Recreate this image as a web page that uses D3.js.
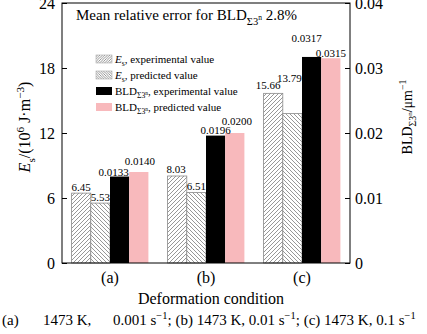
<!DOCTYPE html>
<html>
<head>
<meta charset="utf-8">
<script src="https://cdn.jsdelivr.net/npm/d3@7"></script>
<style>
  body { margin: 0; background: #fff; }
  text { font-family: "Liberation Serif", "DejaVu Serif", serif; fill: #000; }
</style>
</head>
<body>
<div id="chart"></div>
<script>
// data
const conditions = ["(a)", "(b)", "(c)"];
const esExp = [6.45, 8.03, 15.66];
const esPred = [5.53, 6.51, 13.79];
const bldExp = [0.0133, 0.0196, 0.0317];
const bldPred = [0.0140, 0.0200, 0.0315];
const leftTicks = [0, 6, 12, 18, 24];
const rightTicks = [0, 0.01, 0.02, 0.03, 0.04];
const seriesKeys = ["esExp", "esPred", "bldExp", "bldPred"];

const W = 427, H = 334;
const box = {left: 62, right: 350, top: 3, bottom: 263};

let svg = d3.select("#chart").append("svg")
    .attr("width", W)
    .attr("height", H);

// hatch patterns
let defs = svg.append("defs");
function hatch(id, size, flip) {
    let p = defs.append("pattern")
        .attr("id", id)
        .attr("patternUnits", "userSpaceOnUse")
        .attr("width", size)
        .attr("height", size);
    p.append("rect").attr("width", size).attr("height", size).attr("fill", "#fff");
    let s = size;
    let d = flip
        ? `M-1,-1 L${s + 1},${s + 1} M${-s / 2 - 1},${s / 2 - 1} L${s / 2 + 1},${1.5 * s + 1} M${s / 2 - 1},${-s / 2 - 1} L${1.5 * s + 1},${s / 2 + 1}`
        : `M-1,${s + 1} L${s + 1},-1 M${-s / 2 - 1},${s / 2 + 1} L${s / 2 + 1},${-s / 2 - 1} M${s / 2 - 1},${1.5 * s + 1} L${1.5 * s + 1},${s / 2 - 1}`;
    p.append("path").attr("d", d).attr("stroke", "#6a6a6a").attr("stroke-width", 0.7);
}
hatch("hatchA", 4, false);
hatch("hatchB", 4, true);
hatch("hatchAs", 2.5, false);
hatch("hatchBs", 2.5, true);

const fills = {esExp: "url(#hatchA)", esPred: "url(#hatchB)", bldExp: "#000", bldPred: "#f8b9bc"};
const legFills = {esExp: "url(#hatchAs)", esPred: "url(#hatchBs)", bldExp: "#000", bldPred: "#f8b9bc"};
const strokes = {esExp: "#8a8a8a", esPred: "#8a8a8a", bldExp: "none", bldPred: "none"};

let x0 = d3.scaleBand()
    .domain(conditions)
    .range([box.left, box.right])
    .padding(0);

let x1 = d3.scaleBand()
    .domain(seriesKeys)
    .range([0, x0.bandwidth()])
    .paddingInner(0)
    .paddingOuter(0.5);

let yL = d3.scaleLinear().domain([0, 24]).range([box.bottom, box.top]);
let yR = d3.scaleLinear().domain([0, 0.04]).range([box.bottom, box.top]);

// rich text helper: parts = [[text, kind]]
function rich(sel, parts, size) {
    let cur = 0;
    parts.forEach(([txt, kind]) => {
        let off = 0, fs = size, fst = "normal";
        if (kind === "i") fst = "italic";
        if (kind === "sub") { off = 0.3 * size; fs = 0.7 * size; }
        if (kind === "subsup") { off = 0.02 * size; fs = 0.5 * size; }
        if (kind === "sup") { off = -0.4 * size; fs = 0.7 * size; }
        sel.append("tspan")
            .attr("dy", off - cur)
            .attr("font-size", fs)
            .attr("font-style", fst)
            .text(txt);
        cur = off;
    });
    return sel;
}

// bar records
let bars = [];
conditions.forEach((c, i) => {
    bars.push({cond: c, key: "esExp", v: esExp[i], y: yL(esExp[i]), label: esExp[i].toFixed(2)});
    bars.push({cond: c, key: "esPred", v: esPred[i], y: yL(esPred[i]), label: esPred[i].toFixed(2)});
    bars.push({cond: c, key: "bldExp", v: bldExp[i], y: yR(bldExp[i]), label: bldExp[i].toFixed(4)});
    bars.push({cond: c, key: "bldPred", v: bldPred[i], y: yR(bldPred[i]), label: bldPred[i].toFixed(4)});
});

svg.append("g").selectAll("rect")
    .data(bars)
    .enter()
    .append("rect")
    .attr("x", d => x0(d.cond) + x1(d.key))
    .attr("y", d => d.y)
    .attr("width", x1.bandwidth())
    .attr("height", d => box.bottom - d.y)
    .attr("fill", d => fills[d.key])
    .attr("stroke", d => strokes[d.key])
    .attr("stroke-width", 0.8);

// label nudges [dx, dy] where the original moved a label off its bar
const nudge = {
    "(a)bldExp": [-6, -1], "(a)bldPred": [1, -7],
    "(b)esExp": [-1, -3], "(b)bldPred": [2, -8],
    "(c)esExp": [-5, -4], "(c)esPred": [-3, -32], "(c)bldExp": [-5, -15], "(c)bldPred": [0, -1]
};

svg.append("g").selectAll("text")
    .data(bars)
    .enter()
    .append("text")
    .attr("x", d => x0(d.cond) + x1(d.key) + x1.bandwidth() / 2 + (nudge[d.cond + d.key] || [0, -2])[0])
    .attr("y", d => d.y + (nudge[d.cond + d.key] || [0, -2])[1])
    .attr("text-anchor", "middle")
    .attr("font-size", 11)
    .text(d => d.label);

// frame
svg.append("rect")
    .attr("x", box.left)
    .attr("y", box.top)
    .attr("width", box.right - box.left)
    .attr("height", box.bottom - box.top)
    .attr("fill", "none")
    .attr("stroke", "#000")
    .attr("stroke-width", 1);

// axes with inward ticks
let axL = svg.append("g")
    .attr("transform", `translate(${box.left},0)`)
    .call(d3.axisLeft(yL).tickValues(leftTicks).tickSize(-5).tickPadding(7).tickFormat(d3.format("d")));
let axR = svg.append("g")
    .attr("transform", `translate(${box.right},0)`)
    .call(d3.axisRight(yR).tickValues(rightTicks).tickSize(-5).tickPadding(5).tickFormat(d => d === 0 ? "0" : d3.format(".2f")(d)));
[axL, axR].forEach(a => {
    a.select(".domain").remove();
    a.selectAll("text").attr("font-size", 16).attr("font-family", "Liberation Serif");
    a.selectAll("line").attr("stroke", "#000");
});

// category labels
svg.append("g").selectAll("text")
    .data(conditions)
    .enter()
    .append("text")
    .attr("x", d => x0(d) + x0.bandwidth() / 2)
    .attr("y", 283)
    .attr("text-anchor", "middle")
    .attr("font-size", 16)
    .text(d => d);

svg.append("text")
    .attr("x", 211)
    .attr("y", 304)
    .attr("text-anchor", "middle")
    .attr("font-size", 16)
    .text("Deformation condition");

// footnote
svg.append("text").attr("x", 2).attr("y", 325).attr("font-size", 15).text("(a)");
svg.append("text").attr("x", 43).attr("y", 325).attr("font-size", 15).text("1473 K,");
rich(svg.append("text").attr("x", 113).attr("y", 325), [
    ["0.001 s", "n"], ["\u22121", "sup"], ["; (b) 1473 K, 0.01 s", "n"], ["\u22121", "sup"],
    ["; (c) 1473 K, 0.1 s", "n"], ["\u22121", "sup"]
], 15);

// axis titles
rich(svg.append("text")
    .attr("transform", `translate(30,127) rotate(-90)`)
    .attr("text-anchor", "middle"), [
    ["E", "i"], ["s", "sub"], ["/(10", "n"], ["6", "sup"], [" J\u00b7m", "n"], ["\u22123", "sup"], [")", "n"]
], 16);

rich(svg.append("text")
    .attr("transform", `translate(412,117) rotate(-90)`)
    .attr("text-anchor", "middle"), [
    ["BLD", "n"], ["\u03a33", "sub"], ["n", "subsup"], ["/\u03bcm", "n"], ["\u22121", "sup"]
], 14);

// title
rich(svg.append("text").attr("x", 76).attr("y", 20), [
    ["Mean relative error for BLD", "n"], ["\u03a33", "sub"], ["n", "subsup"], [" 2.8%", "n"]
], 15);

// legend
const legendRows = [
    {key: "esExp", parts: [["E", "i"], ["s", "sub"], [", experimental value", "n"]]},
    {key: "esPred", parts: [["E", "i"], ["s", "sub"], [", predicted value", "n"]]},
    {key: "bldExp", parts: [["BLD", "n"], ["\u03a33", "sub"], ["n", "subsup"], [", experimental value", "n"]]},
    {key: "bldPred", parts: [["BLD", "n"], ["\u03a33", "sub"], ["n", "subsup"], [", predicted value", "n"]]}
];
let legend = svg.append("g");
legendRows.forEach((r, i) => {
    let cy = 59 + i * 16;
    legend.append("rect")
        .attr("x", 96).attr("y", cy - 4)
        .attr("width", 16).attr("height", 8)
        .attr("fill", legFills[r.key])
        .attr("stroke", r.key.startsWith("es") ? "#aaa" : "none")
        .attr("stroke-width", 0.6);
    rich(legend.append("text").attr("x", 115).attr("y", cy + 4), r.parts, 11);
});
</script>
</body>
</html>
